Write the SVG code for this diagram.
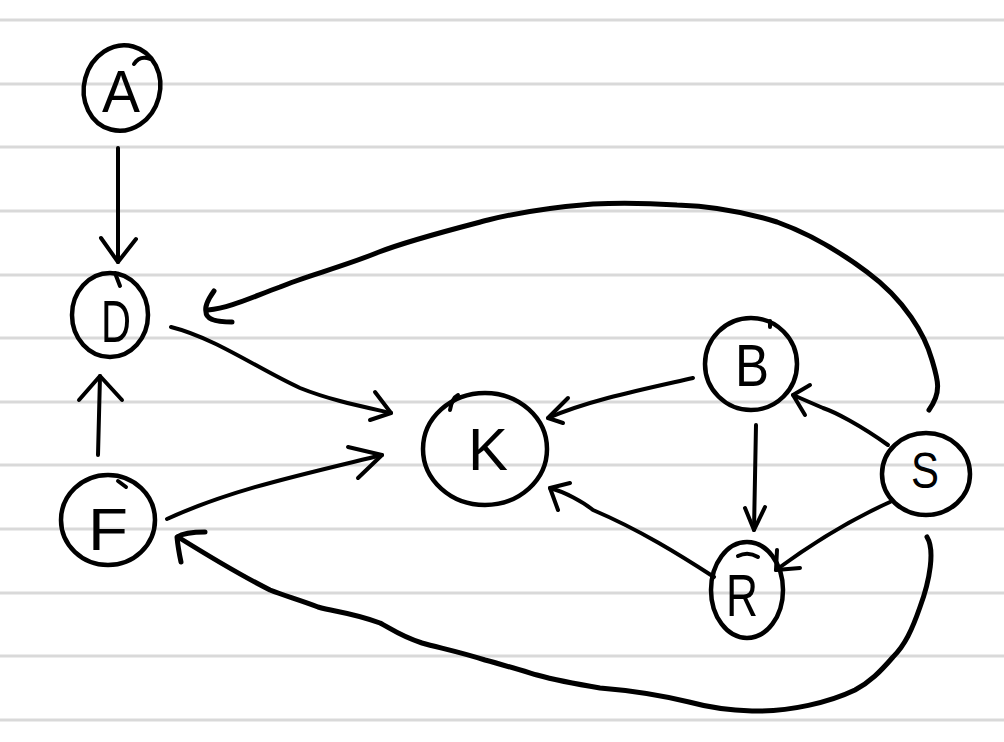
<svg xmlns="http://www.w3.org/2000/svg" width="1004" height="742" viewBox="0 0 1004 742">
<style>
.paper{stroke:#d9d9d9;stroke-width:3;fill:none}
.ink{stroke:#000;stroke-width:4;fill:none;stroke-linecap:round;stroke-linejoin:round}
.node{stroke-width:4.5}
.thick{stroke-width:5}
.lbl{font-family:"Liberation Sans","DejaVu Sans",sans-serif;font-size:60px;fill:#000;text-anchor:middle}
</style>
<rect width="1004" height="742" fill="#fff"/>
<g id="paper">
<line class="paper" x1="0" y1="20" x2="1004" y2="20"/>
<line class="paper" x1="0" y1="84" x2="1004" y2="84"/>
<line class="paper" x1="0" y1="147" x2="1004" y2="147"/>
<line class="paper" x1="0" y1="211" x2="1004" y2="211"/>
<line class="paper" x1="0" y1="275" x2="1004" y2="275"/>
<line class="paper" x1="0" y1="338" x2="1004" y2="338"/>
<line class="paper" x1="0" y1="402" x2="1004" y2="402"/>
<line class="paper" x1="0" y1="465" x2="1004" y2="465"/>
<line class="paper" x1="0" y1="529" x2="1004" y2="529"/>
<line class="paper" x1="0" y1="593" x2="1004" y2="593"/>
<line class="paper" x1="0" y1="656" x2="1004" y2="656"/>
<line class="paper" x1="0" y1="720" x2="1004" y2="720"/>
</g>
<g id="connectors">
<path class="ink" d="M 118 148 L 118 262"/>
<path class="ink" d="M 101 238 L 118 262 L 136 239"/>
<path class="ink" d="M 98 455 L 100 376"/>
<path class="ink" d="M 79 400 L 100 376 L 122 400"/>
<path class="ink" d="M 171 327 C 215 338 260 370 300 388 C 330 400 360 406 391 413"/>
<path class="ink" d="M 375 392 L 391 413 L 370 420"/>
<path class="ink" d="M 167 519 C 230 490 300 475 382 455"/>
<path class="ink" d="M 348 447 L 382 455 L 358 478"/>
<path class="ink" d="M 693 378 C 640 390 590 400 548 418"/>
<path class="ink" d="M 568 398 L 548 418 L 563 423"/>
<path class="ink" d="M 714 577 C 680 555 640 530 593 510 C 583 502 565 492 550 488"/>
<path class="ink" d="M 570 483 L 550 488 L 558 510"/>
<path class="ink" d="M 888 445 C 860 425 835 412 823 408 L 793 395"/>
<path class="ink" d="M 810 385 L 793 395 L 805 415"/>
<path class="ink" d="M 890 502 C 850 520 810 545 776 570"/>
<path class="ink" d="M 777 550 L 776 570 L 800 568"/>
<path class="ink" d="M 756 425 L 754 530"/>
<path class="ink" d="M 745 508 L 754 530 L 765 507"/>
<path class="ink thick" d="M 929 410 C 942 392 938 380 932 360 C 925 335 905 300 867 272 C 835 248 805 232 777 222 C 745 212 710 206 677 205 C 645 203 615 203 593 204 C 555 207 520 212 488 220 C 450 230 410 240 379 252 C 340 268 305 276 280 287 C 250 298 230 308 208 310"/>
<path class="ink thick" d="M 214 291 Q 204 305 206 312 Q 206 322 232 322"/>
<path class="ink thick" d="M 927 537 C 935 550 930 580 920 607 C 912 630 905 645 893 657 C 880 672 870 682 855 690 C 830 702 790 712 752 711 C 720 710 700 705 689 702 C 660 695 625 690 600 688 C 570 683 555 680 537 675 C 510 667 500 664 485 660 C 460 652 440 648 422 643 C 400 636 390 628 380 623 C 350 612 335 612 318 607 C 300 600 285 596 270 590 C 240 575 215 560 178 537"/>
<path class="ink thick" d="M 205 532 Q 185 532 177 537 Q 178 548 181 562"/>
</g>
<g id="node-A">
<ellipse class="ink node" cx="122" cy="88" rx="38" ry="43" transform="rotate(15 122 88)"/>
<path class="ink" d="M 134 64 Q 140 55 150 59"/>
<text class="lbl" x="121" y="112" textLength="38" lengthAdjust="spacingAndGlyphs">A</text>
</g>
<g id="node-D">
<ellipse class="ink node" cx="110" cy="315" rx="38" ry="42"/>
<path class="ink" d="M 115 273 L 120 286"/>
<text class="lbl" x="116" y="342" textLength="30" lengthAdjust="spacingAndGlyphs">D</text>
</g>
<g id="node-F">
<ellipse class="ink node" cx="108" cy="520" rx="47" ry="45"/>
<path class="ink" d="M 118 481 L 126 487"/>
<text class="lbl" x="108" y="550" textLength="40" lengthAdjust="spacingAndGlyphs">F</text>
</g>
<g id="node-K">
<ellipse class="ink node" cx="485" cy="449" rx="62" ry="56"/>
<path class="ink" d="M 450 410 Q 452 398 458 395"/>
<text class="lbl" x="488" y="470" textLength="40" lengthAdjust="spacingAndGlyphs">K</text>
</g>
<g id="node-B">
<ellipse class="ink node" cx="751" cy="364" rx="46" ry="46"/>
<path class="ink" d="M 770 321 L 770 327"/>
<text class="lbl" x="752" y="386" textLength="34" lengthAdjust="spacingAndGlyphs">B</text>
</g>
<g id="node-S">
<ellipse class="ink node" cx="926" cy="474" rx="44" ry="41"/>
<text class="lbl" x="925" y="488" style="font-size:50px" textLength="28" lengthAdjust="spacingAndGlyphs">S</text>
</g>
<g id="node-R">
<ellipse class="ink node" cx="747" cy="590" rx="36" ry="48"/>
<path class="ink" d="M 738 556 Q 748 551 758 557"/>
<text class="lbl" x="742" y="616" textLength="32" lengthAdjust="spacingAndGlyphs">R</text>
</g>
</svg>
